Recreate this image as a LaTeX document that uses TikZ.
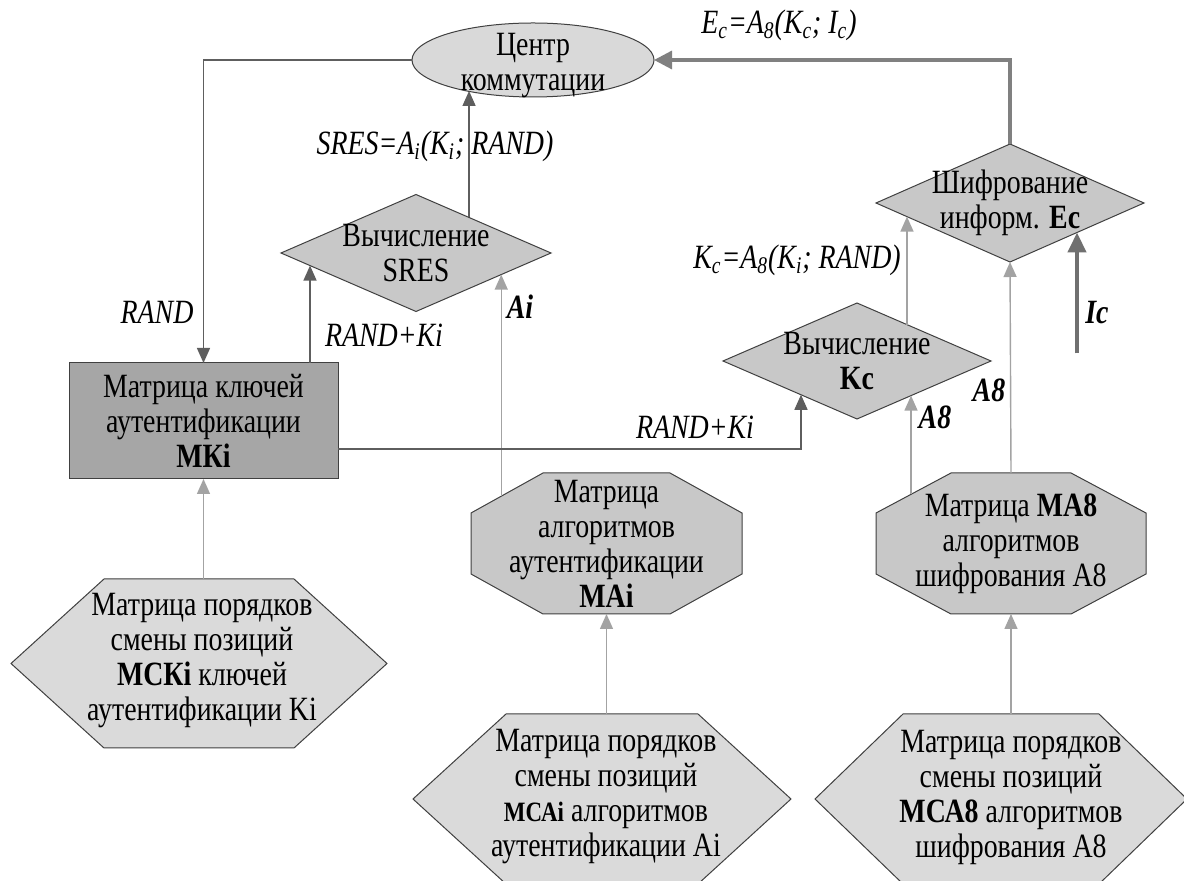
\documentclass[tikz,border=0pt]{standalone}
\usepackage{fontspec}
\setmainfont{Liberation Serif}[FakeStretch=0.82]
\usetikzlibrary{arrows.meta,calc,shapes.geometric}
\definecolor{edgec}{HTML}{404040}
\definecolor{ellfill}{HTML}{D9D9D9}
\definecolor{dfill}{HTML}{C8C8C8}
\definecolor{boxfill}{HTML}{A6A6A6}
\definecolor{hexfill}{HTML}{DADADA}
\definecolor{darkln}{HTML}{5E5E5E}
\definecolor{lightln}{HTML}{A3A3A3}
\definecolor{heavyln}{HTML}{808080}
\definecolor{icln}{HTML}{707070}
\begin{document}
\begin{tikzpicture}[x=0.5pt,y=-0.5pt,
  txt/.style={font=\fontsize{17}{17.5}\selectfont, align=center, inner sep=0pt},
  lbl/.style={font=\fontsize{17}{17.5}\selectfont\itshape, inner sep=0pt},
  blbl/.style={font=\fontsize{17}{17.5}\selectfont\bfseries\itshape, inner sep=0pt},
  shp/.style={inner sep=0pt, outer sep=0pt},
  shpline/.style={draw=edgec, line width=0.5pt},
  dkarrow/.style={draw=darkln, line width=0.7pt, -{Triangle[width=6.5pt,length=7.5pt]}},
  ltarrow/.style={draw=lightln, line width=0.7pt, -{Triangle[width=6.5pt,length=7.5pt]}},
  hvarrow/.style={draw=heavyln, line width=1.6pt, -{Triangle[width=9pt,length=9pt]}},
  icarrow/.style={draw=icln, line width=2.2pt, -{Triangle[width=9pt,length=10pt]}}
]
\useasboundingbox[fill=white] (0,0) rectangle (1184,881);

% ---------- shapes ----------
\node[shp, shpline, ellipse, fill=ellfill, minimum width=121pt, minimum height=37pt] (ell) at (533,60) {};
\node[shp, shpline, diamond, fill=dfill, minimum width=135pt, minimum height=58.5pt] (sres) at (416,253) {};
\node[shp, shpline, diamond, fill=dfill, minimum width=134pt, minimum height=58pt] (kc) at (857,361) {};
\node[shp, shpline, diamond, fill=dfill, minimum width=134pt, minimum height=59pt] (shifr) at (1010,203) {};
\node[shp, shpline, rectangle, fill=boxfill, minimum width=134.5pt, minimum height=58pt] (mki) at (203.5,421) {};

% octagons
\node[shp, minimum width=135.5pt, minimum height=70.5pt] (mai) at (606.5,543.5) {};
\draw[shpline, fill=dfill] ($(mai.north west)+(72,0)$) -- ($(mai.north east)+(-72,0)$)
  -- ($(mai.north east)+(0,40)$) -- ($(mai.south east)+(0,-40)$)
  -- ($(mai.south east)+(-72,0)$) -- ($(mai.south west)+(72,0)$)
  -- ($(mai.south west)+(0,-40)$) -- ($(mai.north west)+(0,40)$) -- cycle;
\node[shp, minimum width=135pt, minimum height=70.5pt] (ma8) at (1011,543.5) {};
\draw[shpline, fill=dfill] ($(ma8.north west)+(75,0)$) -- ($(ma8.north east)+(-75,0)$)
  -- ($(ma8.north east)+(0,40)$) -- ($(ma8.south east)+(0,-40)$)
  -- ($(ma8.south east)+(-75,0)$) -- ($(ma8.south west)+(75,0)$)
  -- ($(ma8.south west)+(0,-40)$) -- ($(ma8.north west)+(0,40)$) -- cycle;

% hexagons
\node[shp, minimum width=188pt, minimum height=84.5pt] (mcki) at (199,663.5) {};
\draw[shpline, fill=hexfill] ($(mcki.north west)+(93,0)$) -- ($(mcki.north east)+(-93,0)$)
  -- (mcki.east) -- ($(mcki.south east)+(-93,0)$) -- ($(mcki.south west)+(93,0)$) -- (mcki.west) -- cycle;
\node[shp, minimum width=189pt, minimum height=85pt] (mcai) at (602,799) {};
\draw[shpline, fill=hexfill] ($(mcai.north west)+(93,0)$) -- ($(mcai.north east)+(-93,0)$)
  -- (mcai.east) -- ($(mcai.south east)+(-93,0)$) -- ($(mcai.south west)+(93,0)$) -- (mcai.west) -- cycle;
\node[shp, minimum width=186pt, minimum height=85pt] (mca8) at (1001,799) {};
\draw[shpline, fill=hexfill] ($(mca8.north west)+(88,0)$) -- ($(mca8.north east)+(-88,0)$)
  -- (mca8.east) -- ($(mca8.south east)+(-88,0)$) -- ($(mca8.south west)+(88,0)$) -- (mca8.west) -- cycle;

% ---------- texts ----------
\node[txt] (ell-t) at ($(ell)+(0,6)$) {Центр\\коммутации};
\node[txt] (sres-t) at (sres) {Вычисление\\SRES};
\node[txt] (kc-t) at (kc) {Вычисление\\\textbf{Kc}};
\node[txt] (shifr-t) at (shifr) {Шифрование\\информ. \textbf{Ec}};
\node[txt] (mki-t) at (mki) {Матрица ключей\\аутентификации\\\textbf{МКi}};
\node[txt] (mai-t) at (mai) {Матрица\\алгоритмов\\аутентификации\\\textbf{МАi}};
\node[txt] (ma8-t) at (ma8) {Матрица \textbf{МА8}\\алгоритмов\\шифрования A8};
\node[txt] (mcki-t) at ($(mcki)+(3,-3)$) {Матрица порядков\\смены позиций\\\textbf{МСКi} ключей\\аутентификации Ki};
\node[txt] (mcai-t) at ($(mcai)+(4,-2)$) {Матрица порядков\\смены позиций\\{\fontsize{14}{17.5}\selectfont\textbf{МСАi}} алгоритмов\\аутентификации Ai};
\node[txt] (mca8-t) at ($(mca8)+(10,-2)$) {Матрица порядков\\смены позиций\\\textbf{МСА8} алгоритмов\\шифрования A8};

% ---------- anchor points on borders ----------
\coordinate (p-mki-sres) at ($(sres.west)!0.215!(sres.south)$);
\coordinate (p-sres-up) at ($(sres.north)!0.393!(sres.east)$);
\coordinate (p-ai-end) at ($(sres.east)!0.37!(sres.south)$);
\coordinate (p-ai-start) at ($($(mai.north west)+(0,40)$)!0.42!($(mai.north west)+(72,0)$)$);
\coordinate (p-rk-start) at ($(mki.south east)+(0,-30)$);
\coordinate (p-rk-end) at ($(kc.west)!0.582!(kc.south)$);
\coordinate (p-a8-start) at ($($(ma8.north west)+(0,40)$)!0.467!($(ma8.north west)+(75,0)$)$);
\coordinate (p-a8-end) at ($(kc.east)!0.597!(kc.south)$);
\coordinate (p-kc-up) at ($(kc.north)!0.373!(kc.east)$);
\coordinate (p-kc-end) at ($(shifr.west)!0.231!(shifr.south)$);
\coordinate (p-ic-end) at ($(shifr.east)!0.5!(shifr.south)$);
\coordinate (p-ic-start) at ($(p-ic-end)+(0,121)$);

% ---------- connectors ----------
\draw[dkarrow] (ell.west) -| (mki.north);
\draw[dkarrow] (p-mki-sres |- mki.north) -- (p-mki-sres);
\draw[dkarrow] (p-sres-up) -- (p-sres-up |- ell.205);
\draw[ltarrow] (p-ai-start) -- (p-ai-start |- p-ai-end);
\draw[dkarrow] (p-rk-start) -| (p-rk-end);
\draw[ltarrow] (p-a8-start) -- (p-a8-start |- p-a8-end);
\draw[ltarrow] (ma8.north) -- (shifr.south);
\draw[ltarrow] (p-kc-up) -- (p-kc-up |- p-kc-end);
\draw[hvarrow] (shifr.north) |- (ell.east);
\draw[icarrow] (p-ic-start) -- (p-ic-end);
\draw[ltarrow] (mcki.north -| mki.south) -- (mki.south);
\draw[ltarrow] (mcai.north -| mai.south) -- (mai.south);
\draw[ltarrow] (mca8.north -| ma8.south) -- (ma8.south);

% ---------- labels ----------
\node[lbl] (l-ec) at (779,25) {E\textsubscript{c}=A\textsubscript{8}(K\textsubscript{c}; I\textsubscript{c})};
\node[lbl] (l-sres) at (435,146) {SRES=A\textsubscript{i}(K\textsubscript{i}; RAND)};
\node[lbl] (l-kc) at (797,260) {K\textsubscript{c}=A\textsubscript{8}(K\textsubscript{i}; RAND)};
\node[lbl] (l-rand) at (157,312) {RAND};
\node[lbl] (l-rk1) at (384,335) {RAND+Ki};
\node[lbl] (l-rk2) at (695,427) {RAND+Ki};
\node[blbl] (l-ai) at (520,307) {Ai};
\node[blbl] (l-a8a) at (989,390) {A8};
\node[blbl] (l-a8b) at (935,417) {A8};
\node[blbl] (l-ic) at (1097,313) {Ic};
\end{tikzpicture}
\end{document}
